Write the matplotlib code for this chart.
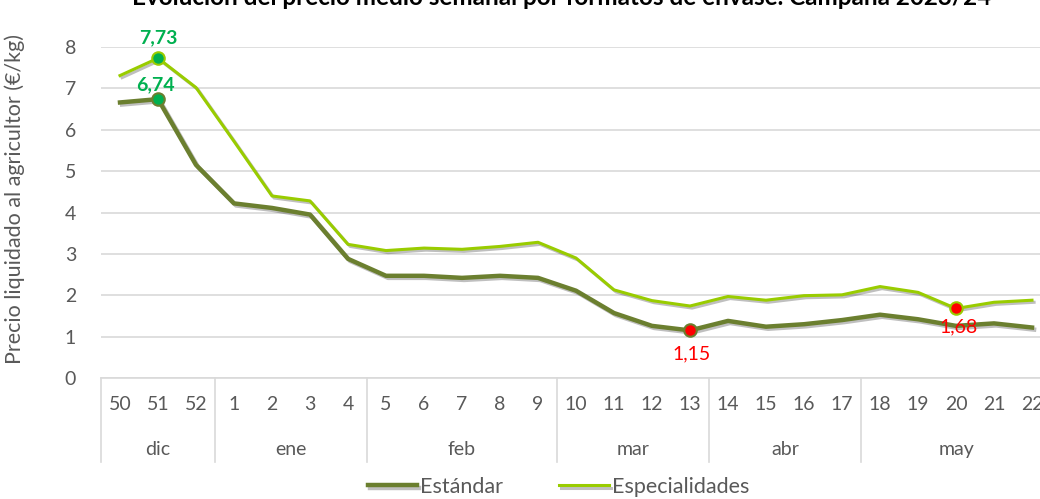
import matplotlib
matplotlib.use('Agg')
import matplotlib.pyplot as plt
import matplotlib.patheffects as pe
import matplotlib.transforms as mtransforms

# week labels and month groups
weeks = ['50', '51', '52', '1', '2', '3', '4', '5', '6', '7', '8', '9', '10', '11', '12', '13',
         '14', '15', '16', '17', '18', '19', '20', '21', '22']
months = ['dic', 'ene', 'feb', 'mar', 'abr', 'may']
month_sizes = [3, 4, 5, 4, 4, 5]

estandar = [6.66, 6.74, 5.15, 4.22, 4.11, 3.95, 2.88, 2.47, 2.47, 2.42, 2.47, 2.42, 2.11,
            1.57, 1.26, 1.15, 1.38, 1.24, 1.30, 1.40, 1.53, 1.42, 1.26, 1.32, 1.22]
especialidades = [7.31, 7.73, 7.02, 5.72, 4.40, 4.28, 3.23, 3.08, 3.14, 3.11, 3.18, 3.28, 2.90,
                  2.13, 1.87, 1.74, 1.97, 1.88, 1.99, 2.01, 2.21, 2.07, 1.68, 1.83, 1.88]

# highlighted points (positions in the lists above)
max_idx = 1
min_est_idx = 15
min_esp_idx = 22

c_est = '#6b7f2f'
c_esp = '#99cc00'
c_max = '#00b050'
c_min = '#ff0000'
grey = '#595959'

plt.rcParams['font.family'] = ['Lato', 'DejaVu Sans']

fig = plt.figure(figsize=(10.4, 4.99), dpi=100)
ax = fig.add_axes([101 / 1040, 121 / 499, 950 / 1040, 331 / 499])

x = list(range(len(weeks)))
shadow = [pe.SimpleLineShadow(offset=(1.5, -1.5), shadow_color='k', alpha=0.25), pe.Normal()]
ax.plot(x, estandar, color=c_est, lw=3.2, label='Estándar', path_effects=shadow, zorder=3)
ax.plot(x, especialidades, color=c_esp, lw=2.2, label='Especialidades', path_effects=shadow, zorder=3)

def fmt(v):
    return '{:.2f}'.format(v).replace('.', ',')

# max markers
ax.plot(max_idx, especialidades[max_idx], 'o', ms=9, mfc=c_max, mec=c_esp, mew=1.5, zorder=5)
ax.plot(max_idx, estandar[max_idx], 'o', ms=9, mfc=c_max, mec=c_est, mew=1.5, zorder=5)
ax.annotate(fmt(especialidades[max_idx]), (max_idx, especialidades[max_idx]), xytext=(0, 15),
            textcoords='offset points', ha='center', va='center', color=c_max,
            fontsize=14, fontweight='bold')
ax.annotate(fmt(estandar[max_idx]), (max_idx, estandar[max_idx]), xytext=(-2, 10),
            textcoords='offset points', ha='center', va='center', color=c_max,
            fontsize=14, fontweight='bold')

# min markers
ax.plot(min_est_idx, estandar[min_est_idx], 'o', ms=9, mfc=c_min, mec=c_est, mew=1.5, zorder=5)
ax.plot(min_esp_idx, especialidades[min_esp_idx], 'o', ms=9, mfc=c_min, mec=c_esp, mew=1.5, zorder=5)
ax.annotate(fmt(estandar[min_est_idx]), (min_est_idx, estandar[min_est_idx]), xytext=(1, -17),
            textcoords='offset points', ha='center', va='center', color=c_min, fontsize=14)
ax.annotate(fmt(especialidades[min_esp_idx]), (min_esp_idx, especialidades[min_esp_idx]), xytext=(2, -13),
            textcoords='offset points', ha='center', va='center', color=c_min, fontsize=14)

ax.set_xlim(-0.5, len(weeks) - 0.5)
ax.set_ylim(0, 8)
ax.set_yticks(range(0, 9))
ax.tick_params(axis='y', length=0, labelsize=14, labelcolor=grey, pad=18)
ax.grid(axis='y', color='#d9d9d9', lw=1.2)
ax.set_axisbelow(True)
for s in ['top', 'right', 'left']:
    ax.spines[s].set_visible(False)
ax.spines['bottom'].set_color('#d9d9d9')
ax.spines['bottom'].set_linewidth(1.2)

# two-level category axis
ax.set_xticks(x)
ax.set_xticklabels(weeks)
ax.tick_params(axis='x', length=0, labelsize=14, labelcolor=grey, pad=13)

trans = mtransforms.blended_transform_factory(ax.transData, ax.transAxes)
start = 0
bounds = [-0.5]
for name, n in zip(months, month_sizes):
    mid = start + (n - 1) / 2
    ax.text(mid, -0.215, name, transform=trans, ha='center', va='center', fontsize=14, color=grey)
    start += n
    bounds.append(start - 0.5)
for b in bounds:
    ax.plot([b, b], [0, -0.255], transform=trans, color='#d9d9d9', lw=1.2, clip_on=False)

ax.set_ylabel('Precio liquidado al agricultor (€/kg)', fontsize=15.5, color=grey)
ax.yaxis.set_label_coords(-0.08, 0.54)

fig.text(0.54, 0.99, 'Evolución del precio medio semanal por formatos de envase. Campaña 2023/24',
         ha='center', va='baseline', fontsize=17.5, fontweight='bold', color='black')

fig.legend(loc='center', bbox_to_anchor=(0.537, 0.024), ncol=2, frameon=False, fontsize=15.5,
           handlelength=2.3, handletextpad=0.15, columnspacing=2.6, labelcolor=grey)

fig.savefig('out.png', dpi=100)
